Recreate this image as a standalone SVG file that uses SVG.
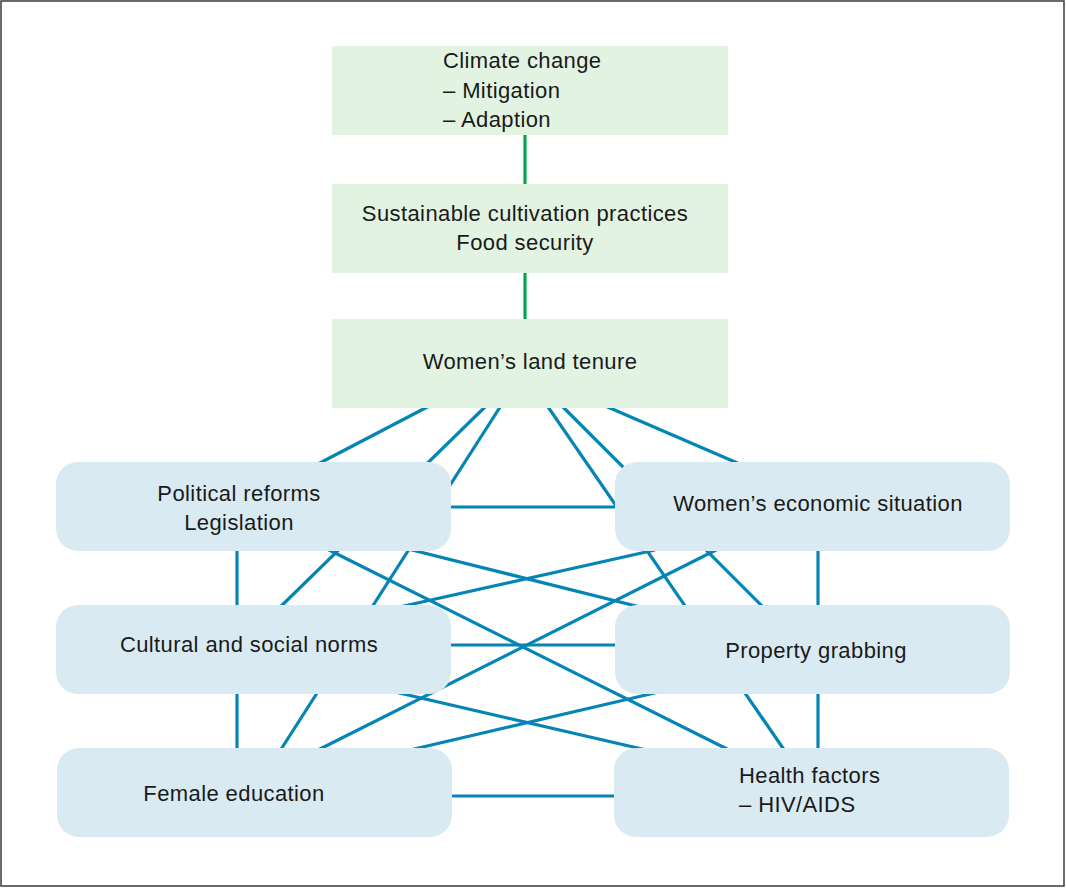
<svg xmlns="http://www.w3.org/2000/svg" width="1066" height="888" viewBox="0 0 1066 888">
<style>
.frame{fill:#ffffff;stroke:#3a3a3a;stroke-width:1.5}
.g{fill:#e2f3e2}
.b{fill:#d9eaf2}
.lb{stroke:#0585b6;stroke-width:3.2;fill:none;stroke-linecap:butt}
.lg{stroke:#00a651;stroke-width:3.2;fill:none}
text{font-family:"Liberation Sans",Arial,sans-serif;font-size:22px;fill:#1a1a1a;letter-spacing:0.4px}
.m{text-anchor:middle}
</style>
<rect class="frame" x="1" y="1" width="1063" height="885"/>
<g id="connectors">
<line class="lg" x1="525" y1="135" x2="525" y2="184"/>
<line class="lg" x1="525" y1="273" x2="525" y2="319"/>
<line class="lb" x1="433" y1="404" x2="316" y2="465"/>
<line class="lb" x1="487" y1="405" x2="270" y2="617"/>
<line class="lb" x1="502" y1="404" x2="278" y2="754"/>
<line class="lb" x1="546" y1="404" x2="787" y2="754"/>
<line class="lb" x1="561" y1="405" x2="768" y2="612"/>
<line class="lb" x1="603" y1="405" x2="742" y2="465"/>
<line class="lb" x1="440" y1="507" x2="625" y2="507"/>
<line class="lb" x1="440" y1="645" x2="625" y2="645"/>
<line class="lb" x1="440" y1="796" x2="625" y2="796"/>
<line class="lb" x1="237" y1="540" x2="237" y2="760"/>
<line class="lb" x1="818" y1="540" x2="818" y2="760"/>
<line class="lb" x1="325" y1="548" x2="731" y2="751"/>
<line class="lb" x1="408" y1="549" x2="660" y2="612"/>
<line class="lb" x1="395" y1="608" x2="655" y2="550"/>
<line class="lb" x1="720" y1="548" x2="314" y2="752"/>
<line class="lb" x1="395" y1="692" x2="655" y2="752"/>
<line class="lb" x1="410" y1="750" x2="663" y2="691"/>
</g>
<g id="climate">
<rect class="g" x="332" y="46" width="396" height="89"/>
<text x="443" y="68">Climate change</text>
<text x="443" y="98">– Mitigation</text>
<text x="443" y="127">– Adaption</text>
</g>
<g id="sustainable">
<rect class="g" x="332" y="184" width="396" height="89"/>
<text class="m" x="525" y="221">Sustainable cultivation practices</text>
<text class="m" x="525" y="250">Food security</text>
</g>
<g id="tenure">
<rect class="g" x="332" y="319" width="396" height="89"/>
<text class="m" x="530" y="369">Women’s land tenure</text>
</g>
<g id="political">
<rect class="b" x="56" y="462" width="395" height="89" rx="22"/>
<text class="m" x="239" y="501">Political reforms</text>
<text class="m" x="239" y="530">Legislation</text>
</g>
<g id="economic">
<rect class="b" x="615" y="462" width="395" height="89" rx="22"/>
<text class="m" x="818" y="511">Women’s economic situation</text>
</g>
<g id="cultural">
<rect class="b" x="56" y="605" width="395" height="89" rx="22"/>
<text class="m" x="249" y="652">Cultural and social norms</text>
</g>
<g id="property">
<rect class="b" x="615" y="605" width="395" height="89" rx="22"/>
<text class="m" x="816" y="658">Property grabbing</text>
</g>
<g id="female">
<rect class="b" x="57" y="748" width="395" height="89" rx="22"/>
<text class="m" x="234" y="801">Female education</text>
</g>
<g id="health">
<rect class="b" x="614" y="748" width="395" height="89" rx="22"/>
<text x="739" y="783">Health factors</text>
<text x="739" y="812">– HIV/AIDS</text>
</g>
</svg>
